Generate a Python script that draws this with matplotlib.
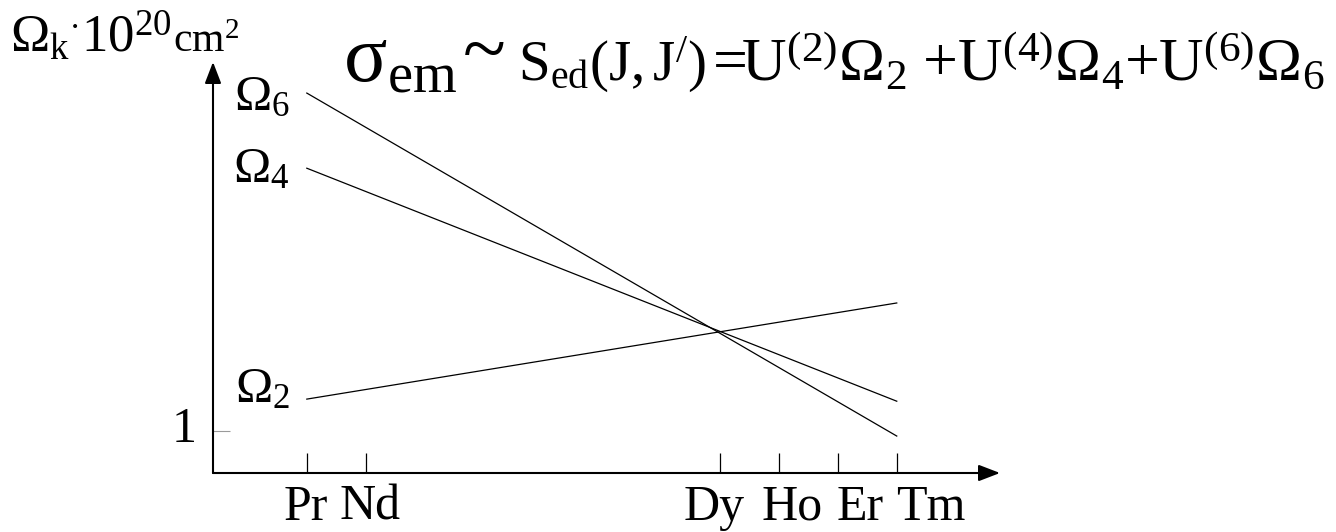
import matplotlib
matplotlib.use("Agg")
import matplotlib.pyplot as plt

plt.rcParams['font.family'] = ['Liberation Serif', 'DejaVu Serif']
plt.rcParams['mathtext.fontset'] = 'custom'
plt.rcParams['mathtext.rm'] = 'Liberation Serif'
plt.rcParams['mathtext.it'] = 'Liberation Serif:italic'
plt.rcParams['mathtext.bf'] = 'Liberation Serif:bold'

# elements (atomic number) shown on the x axis
elements = ['Pr', 'Nd', 'Dy', 'Ho', 'Er', 'Tm']
z_numbers = [59, 60, 66, 67, 68, 69]

# schematic straight lines from Pr to Tm (arbitrary units, "1" marked on y)
z_ends = [59, 69]
omega2 = [1.76, 4.05]
omega4 = [7.26, 1.71]
omega6 = [9.05, 0.88]

fig = plt.figure(figsize=(13.36, 5.32), dpi=100)
W, H = 1336, 532
ax = fig.add_axes([213 / W, (H - 473) / H, (1000 - 213) / W, (473 - 62) / H])
ax.set_xlim(57.41, 70.75)
ax.set_ylim(0, 9.79)

for vals in (omega2, omega4, omega6):
    ax.plot(z_ends, vals, color='black', lw=0.9)

# curve labels at the Pr end of each line
for vals, lab, dy in ((omega6, r'$\mathrm{Ω_6}$', -17),
                      (omega4, r'$\mathrm{Ω_4}$', -14),
                      (omega2, r'$\mathrm{Ω_2}$', -3)):
    ax.annotate(lab, (z_ends[0], vals[0]), xytext=(-17, dy),
                textcoords='offset pixels', ha='right', va='baseline',
                fontsize=36)

# axes drawn as arrows
for s in ax.spines.values():
    s.set_visible(False)
arrow = dict(arrowstyle='-|>,head_length=1.3,head_width=0.5',
             color='black', lw=1.5, shrinkA=0, shrinkB=0)
ax.annotate('', xy=(1, 0), xytext=(0, 0), xycoords='axes fraction', arrowprops=arrow)
ax.annotate('', xy=(0, 1), xytext=(0, 0), xycoords='axes fraction', arrowprops=arrow)

ax.set_xticks(z_numbers)
ax.set_xticklabels([])
ax.tick_params(axis='x', direction='in', length=14.4, width=0.9)
ax.set_yticks([1])
ax.set_yticklabels([])
ax.tick_params(axis='y', direction='in', length=12.5, width=0.8, color='#9a9a9a')

# element names sit as one run of text under the ticks
label_dx = [-1, 4, -6, 13, 22, 34]
for z, name, dx in zip(z_numbers, elements, label_dx):
    ax.annotate(name, (z, 0), xycoords=('data', 'axes fraction'),
                xytext=(dx, -47), textcoords='offset pixels',
                ha='center', va='baseline', fontsize=36)
ax.annotate('1', (0, 1), xycoords=('axes fraction', 'data'),
            xytext=(-16, -11), textcoords='offset pixels',
            ha='right', va='baseline', fontsize=36)

# y axis unit
fig.text(10 / W, 1 - 52 / H, r'$\mathrm{Ω_k{}^{\cdot}10^{20}}$',
         fontsize=38, ha='left', va='baseline')
fig.text(173 / W, 1 - 52 / H, r'$\mathrm{cm^2}$',
         fontsize=30, ha='left', va='baseline')

# formula in pieces of different size
base = 1 - 81 / H
fig.text(343 / W, base, r'$\mathrm{σ_{em}}$', fontsize=58, ha='left', va='baseline')
fig.text(463 / W, 1 - 74 / H, '~', fontsize=57, ha='left', va='baseline')
fig.text(518 / W, base, r'$\mathrm{S_{ed}(J,J^{/})}$', fontsize=41, ha='left', va='baseline')
fig.text(704 / W, base, r'$\mathrm{=\!\!U^{(2)}Ω_2\ {+}U^{(4)}Ω_4{+}U^{(6)}Ω_6}$',
         fontsize=44.5, ha='left', va='baseline')

fig.savefig('out.png', dpi=100)
